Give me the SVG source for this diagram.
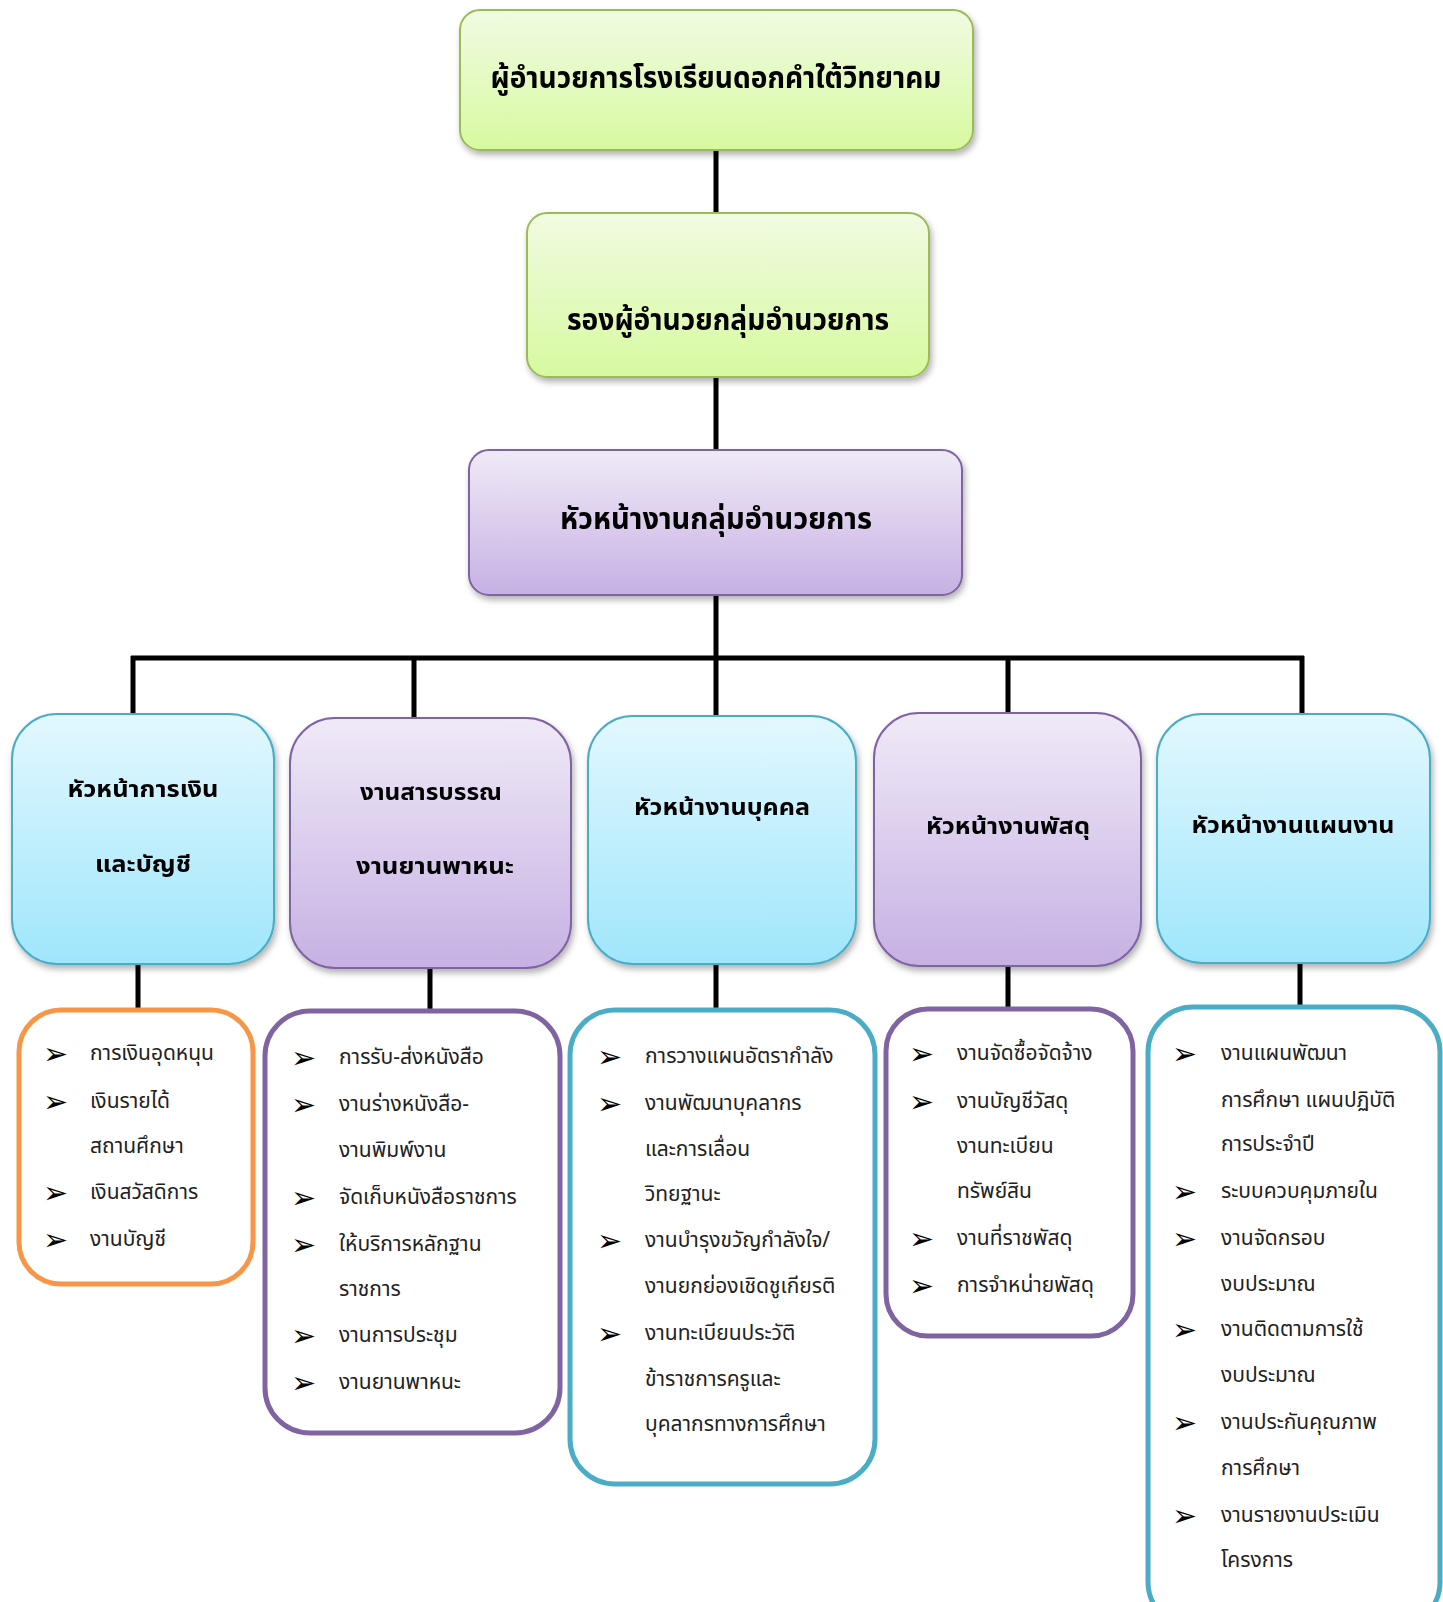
<svg xmlns="http://www.w3.org/2000/svg" width="1443" height="1602" viewBox="0 0 1443 1602">
<defs>
<linearGradient id="gG" x1="0" y1="0" x2="0" y2="1"><stop offset="0" stop-color="#f1fbe2"/><stop offset="1" stop-color="#d7f9a0"/></linearGradient>
<linearGradient id="gP" x1="0" y1="0" x2="0" y2="1"><stop offset="0" stop-color="#f0eaf7"/><stop offset="1" stop-color="#c6b1e3"/></linearGradient>
<linearGradient id="gC" x1="0" y1="0" x2="0" y2="1"><stop offset="0" stop-color="#e3f8fe"/><stop offset="1" stop-color="#9fe6fb"/></linearGradient>
<filter id="sh" x="-10%" y="-10%" width="120%" height="125%"><feDropShadow dx="2" dy="4" stdDeviation="3" flood-color="#000" flood-opacity="0.3"/></filter>
<style>
.green{fill:url(#gG);stroke:#9bbb59;stroke-width:2}
.purple{fill:url(#gP);stroke:#8064a2;stroke-width:2}
.cyan{fill:url(#gC);stroke:#4bacc6;stroke-width:2}
.lo{fill:#fff;stroke:#f79646;stroke-width:5}
.lp{fill:#fff;stroke:#8064a2;stroke-width:5}
.lc{fill:#fff;stroke:#4bacc6;stroke-width:5}
.conn line{stroke:#000;stroke-width:5}
.t1{font-family:"Noto Sans Thai","Noto Sans",sans-serif;font-weight:bold;font-size:30px;fill:#000;text-anchor:middle}
.t2{font-family:"Noto Sans Thai","Noto Sans",sans-serif;font-weight:bold;font-size:23px;fill:#000;text-anchor:middle}
.li{font-family:"Noto Sans Thai","Noto Sans",sans-serif;font-size:21px;fill:#222}
.ar{font-family:"DejaVu Sans",sans-serif;font-size:30px;fill:#000}
</style>
</defs>
<g id="connectors" class="conn">
<line x1="716" y1="150" x2="716" y2="213"/>
<line x1="716" y1="377" x2="716" y2="450"/>
<line x1="716" y1="595" x2="716" y2="658"/>
<line x1="131" y1="658" x2="1304" y2="658"/>
<line x1="133" y1="656" x2="133" y2="714"/>
<line x1="414" y1="656" x2="414" y2="718"/>
<line x1="716" y1="656" x2="716" y2="716"/>
<line x1="1008" y1="656" x2="1008" y2="713"/>
<line x1="1302" y1="656" x2="1302" y2="714"/>
<line x1="138" y1="964" x2="138" y2="1009"/>
<line x1="430" y1="968" x2="430" y2="1010"/>
<line x1="716" y1="964" x2="716" y2="1008"/>
<line x1="1008" y1="966" x2="1008" y2="1007"/>
<line x1="1300" y1="963" x2="1300" y2="1006"/>
</g>
<g id="n-director" filter="url(#sh)"><rect class="green" x="460" y="10" width="513" height="140" rx="20"/><text class="t1" x="716" y="88" textLength="451" lengthAdjust="spacingAndGlyphs">ผู้อำนวยการโรงเรียนดอกคำใต้วิทยาคม</text></g>
<g id="n-deputy" filter="url(#sh)"><rect class="green" x="527" y="213" width="402" height="164" rx="20"/><text class="t1" x="728" y="330" textLength="322" lengthAdjust="spacingAndGlyphs">รองผู้อำนวยกลุ่มอำนวยการ</text></g>
<g id="n-head" filter="url(#sh)"><rect class="purple" x="469" y="450" width="493" height="145" rx="20"/><text class="t1" x="716" y="529" textLength="312" lengthAdjust="spacingAndGlyphs">หัวหน้างานกลุ่มอำนวยการ</text></g>
<g id="n-finance" filter="url(#sh)"><rect class="cyan" x="12" y="714" width="262" height="250" rx="45"/><text class="t2" x="143" y="797" textLength="151" lengthAdjust="spacingAndGlyphs">หัวหน้าการเงิน</text><text class="t2" x="143" y="872" textLength="96" lengthAdjust="spacingAndGlyphs">และบัญชี</text></g>
<g id="n-saraban" filter="url(#sh)"><rect class="purple" x="290" y="718" width="281" height="250" rx="45"/><text class="t2" x="431" y="800" textLength="142" lengthAdjust="spacingAndGlyphs">งานสารบรรณ</text><text class="t2" x="435" y="874" textLength="158" lengthAdjust="spacingAndGlyphs">งานยานพาหนะ</text></g>
<g id="n-personnel" filter="url(#sh)"><rect class="cyan" x="588" y="716" width="268" height="248" rx="45"/><text class="t2" x="722" y="815" textLength="176" lengthAdjust="spacingAndGlyphs">หัวหน้างานบุคคล</text></g>
<g id="n-supply" filter="url(#sh)"><rect class="purple" x="874" y="713" width="267" height="253" rx="45"/><text class="t2" x="1008" y="834" textLength="164" lengthAdjust="spacingAndGlyphs">หัวหน้างานพัสดุ</text></g>
<g id="n-plan" filter="url(#sh)"><rect class="cyan" x="1157" y="714" width="273" height="249" rx="45"/><text class="t2" x="1293" y="833" textLength="203" lengthAdjust="spacingAndGlyphs">หัวหน้างานแผนงาน</text></g>
<g id="l-finance"><rect class="lo" x="19" y="1010" width="234" height="274" rx="42"/>
<text class="ar" x="43" y="1064">➢</text><text class="li" x="90" y="1060">การเงินอุดหนุน</text>
<text class="ar" x="43" y="1112">➢</text><text class="li" x="90" y="1108">เงินรายได้</text>
<text class="li" x="90" y="1153">สถานศึกษา</text>
<text class="ar" x="43" y="1203">➢</text><text class="li" x="90" y="1199">เงินสวัสดิการ</text>
<text class="ar" x="43" y="1250">➢</text><text class="li" x="90" y="1246">งานบัญชี</text>
</g>
<g id="l-saraban"><rect class="lp" x="265" y="1011" width="295" height="422" rx="45"/>
<text class="ar" x="291" y="1068">➢</text><text class="li" x="339" y="1064">การรับ-ส่งหนังสือ</text>
<text class="ar" x="291" y="1115">➢</text><text class="li" x="339" y="1111">งานร่างหนังสือ-</text>
<text class="li" x="339" y="1157">งานพิมพ์งาน</text>
<text class="ar" x="291" y="1208">➢</text><text class="li" x="339" y="1204">จัดเก็บหนังสือราชการ</text>
<text class="ar" x="291" y="1255">➢</text><text class="li" x="339" y="1251">ให้บริการหลักฐาน</text>
<text class="li" x="339" y="1296">ราชการ</text>
<text class="ar" x="291" y="1346">➢</text><text class="li" x="339" y="1342">งานการประชุม</text>
<text class="ar" x="291" y="1393">➢</text><text class="li" x="339" y="1389">งานยานพาหนะ</text>
</g>
<g id="l-personnel"><rect class="lc" x="570" y="1010" width="305" height="474" rx="45"/>
<text class="ar" x="597" y="1067">➢</text><text class="li" x="645" y="1063">การวางแผนอัตรากำลัง</text>
<text class="ar" x="597" y="1114">➢</text><text class="li" x="645" y="1110">งานพัฒนาบุคลากร</text>
<text class="li" x="645" y="1156">และการเลื่อน</text>
<text class="li" x="645" y="1201">วิทยฐานะ</text>
<text class="ar" x="597" y="1251">➢</text><text class="li" x="645" y="1247">งานบำรุงขวัญกำลังใจ/</text>
<text class="li" x="645" y="1293">งานยกย่องเชิดชูเกียรติ</text>
<text class="ar" x="597" y="1344">➢</text><text class="li" x="645" y="1340">งานทะเบียนประวัติ</text>
<text class="li" x="645" y="1386">ข้าราชการครูและ</text>
<text class="li" x="645" y="1431">บุคลากรทางการศึกษา</text>
</g>
<g id="l-supply"><rect class="lp" x="886" y="1009" width="247" height="327" rx="42"/>
<text class="ar" x="909" y="1064">➢</text><text class="li" x="957" y="1060">งานจัดซื้อจัดจ้าง</text>
<text class="ar" x="909" y="1112">➢</text><text class="li" x="957" y="1108">งานบัญชีวัสดุ</text>
<text class="li" x="957" y="1153">งานทะเบียน</text>
<text class="li" x="957" y="1198">ทรัพย์สิน</text>
<text class="ar" x="909" y="1249">➢</text><text class="li" x="957" y="1245">งานที่ราชพัสดุ</text>
<text class="ar" x="909" y="1296">➢</text><text class="li" x="957" y="1292">การจำหน่ายพัสดุ</text>
</g>
<g id="l-plan"><rect class="lc" x="1148" y="1007" width="292" height="620" rx="45"/>
<text class="ar" x="1172" y="1064">➢</text><text class="li" x="1221" y="1060">งานแผนพัฒนา</text>
<text class="li" x="1221" y="1107">การศึกษา แผนปฏิบัติ</text>
<text class="li" x="1221" y="1151">การประจำปี</text>
<text class="ar" x="1172" y="1202">➢</text><text class="li" x="1221" y="1198">ระบบควบคุมภายใน</text>
<text class="ar" x="1172" y="1249">➢</text><text class="li" x="1221" y="1245">งานจัดกรอบ</text>
<text class="li" x="1221" y="1291">งบประมาณ</text>
<text class="ar" x="1172" y="1340">➢</text><text class="li" x="1221" y="1336">งานติดตามการใช้</text>
<text class="li" x="1221" y="1382">งบประมาณ</text>
<text class="ar" x="1172" y="1433">➢</text><text class="li" x="1221" y="1429">งานประกันคุณภาพ</text>
<text class="li" x="1221" y="1475">การศึกษา</text>
<text class="ar" x="1172" y="1526">➢</text><text class="li" x="1221" y="1522">งานรายงานประเมิน</text>
<text class="li" x="1221" y="1567">โครงการ</text>
</g>
</svg>
